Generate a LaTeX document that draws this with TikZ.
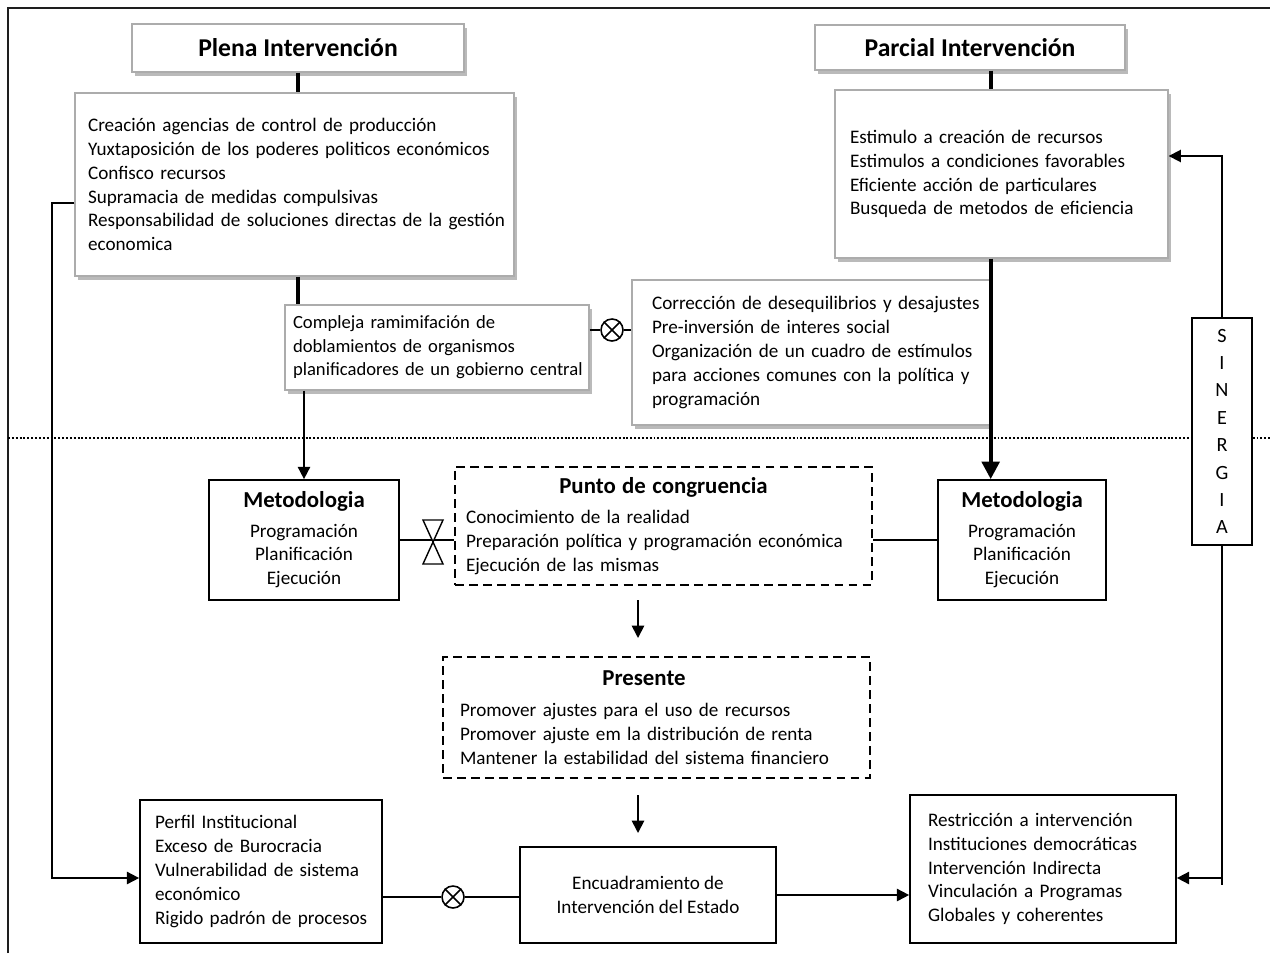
\documentclass[tikz,border=0pt]{standalone}
\usepackage{fontspec}
\setmainfont{Carlito}
\usetikzlibrary{arrows.meta,positioning,calc,shadows}
\definecolor{Marco}{HTML}{1E1E1E}
\definecolor{Sombra}{HTML}{9C9C9C}

\begin{document}
\begin{tikzpicture}[x=0.02cm, y=-0.02cm,
  every node/.style={font=\fontsize{10.9}{13.6}\selectfont},
  sombra/.style={draw=gray!65, line width=0.8pt, fill=white,
    drop shadow={shadow xshift=1.5pt, shadow yshift=-2.5pt, fill=Sombra, opacity=0.7}},
  caja/.style={draw=black, line width=1pt, fill=white},
  punteada/.style={draw=black, line width=1.5pt, dash pattern=on 5pt off 3pt, fill=white},
  lista/.style={align=left, inner xsep=0.1cm, text width=#1,
    execute at begin node={\hyphenpenalty=10000}},
  sangria/.style={execute at begin node={\leftskip=#1}},
  titulo/.style={font=\fontsize{14.6}{16}\selectfont\bfseries},
  conector/.style={line width=1pt},
  grueso/.style={line width=2.3pt},
  flecha/.style={conector, -{Triangle[length=7pt, width=7pt]}},
  cruz/.style={circle, draw, line width=0.9pt, minimum size=0.44cm, inner sep=0pt, fill=white}
]
  \useasboundingbox (0,0) rectangle (1270,953);
  \draw[Marco, line width=1.2pt] (8,953) -- (8,8) -- (1270,8);
  \draw[line width=1.4pt, dash pattern=on 1.1pt off 1.1pt] (8,438) -- (1270,438);

  % parte superior
  \node[sombra, titulo, minimum width=6.64cm, minimum height=0.96cm] (plena) at (298,48) {Plena Intervención};
  \node[sombra, lista=8.58cm, sangria=0.16cm, minimum height=3.66cm] (plenaList) at (294.5,184.5)
    {Creación agencias de control de producción\\
     Yuxtaposición de los poderes politicos económicos\\
     Confisco recursos\\
     Supramacia de medidas compulsivas\\
     Responsabilidad de soluciones directas de la gestión\\
     economica};
  \node[sombra, lista=5.96cm, sangria=0.1cm, inner xsep=0.06cm, minimum height=1.7cm,
    font=\fontsize{10.6}{13.4}\selectfont] (compleja) at (437,347.5)
    {Compleja ramimifación de\\ doblamientos de organismos\\ planificadores~de~un~gobierno~central};
  \node[sombra, lista=6.96cm, sangria=0.3cm, minimum height=2.9cm] (corr) at (811,352.5)
    {Corrección de desequilibrios y desajustes\\
     Pre-inversión de interes social\\
     Organización de un cuadro de estímulos\\
     para acciones comunes con la política y\\
     programación};
  \node[sombra, titulo, minimum width=6.2cm, minimum height=0.9cm] (parcial) at (970,47.5) {Parcial Intervención};
  \node[sombra, lista=6.46cm, sangria=0.2cm, minimum height=3.36cm] (parcialList) at (1001.5,174)
    {Estimulo a creación de recursos\\
     Estimulos a condiciones favorables\\
     Eficiente acción de particulares\\
     Busqueda de metodos de eficiencia};
  \node[caja, minimum width=1.2cm, minimum height=4.54cm, align=center,
    font=\fontsize{11.5}{15.6}\selectfont] (sinergia) at (1222,431.5) {S\\I\\N\\E\\R\\G\\I\\A};

  % parte inferior
  \node[caja, minimum width=3.8cm, minimum height=2.4cm, align=center] (metL) at (304,540)
    {{\fontsize{13}{15}\selectfont\bfseries Metodologia}\\[3pt] Programación\\ Planificación\\ Ejecución};
  \node[punteada, text width=7.9cm, inner xsep=0.22cm, minimum height=2.36cm, align=left] (punto) at (663.5,526)
    {\makebox[\linewidth]{\fontsize{13}{15}\selectfont\bfseries Punto de congruencia}\\[4pt]
     Conocimiento de la realidad\\
     Preparación política y programación económica\\
     Ejecución de las mismas};
  \node[caja, minimum width=3.36cm, minimum height=2.4cm, align=center] (metR) at (1022,540)
    {{\fontsize{13}{15}\selectfont\bfseries Metodologia}\\[3pt] Programación\\ Planificación\\ Ejecución};
  \node[punteada, text width=7.86cm, inner xsep=0.34cm, minimum height=2.42cm, align=left] (presente) at (656.5,717.5)
    {\makebox[\linewidth]{\hspace{-0.5cm}\fontsize{13}{15}\selectfont\bfseries Presente}\\[4pt]
     Promover ajustes para el uso de recursos\\
     Promover ajuste em la distribución de renta\\
     Mantener la estabilidad del sistema financiero};
  \node[caja, lista=4.64cm, sangria=0.2cm, minimum height=2.86cm] (perfil) at (261,871.5)
    {Perfil Institucional\\
     Exceso de Burocracia\\
     Vulnerabilidad de sistema\\
     económico\\
     Rigido padrón de procesos};
  \node[caja, minimum width=5.12cm, minimum height=1.92cm, align=center] (encuad) at (648,895)
    {Encuadramiento de\\ Intervención del Estado};
  \node[caja, lista=5.12cm, sangria=0.26cm, minimum height=2.96cm] (restr) at (1043,869)
    {Restricción a intervención\\
     Instituciones democráticas\\
     Intervención Indirecta\\
     Vinculación a Programas\\
     Globales y coherentes};

  \node[cruz] (cruzA) at (612,330) {};
  \node[cruz] (cruzB) at (453,897) {};
  \node[inner sep=0pt, minimum size=0.4cm] (valvula) at (433,542) {};

  \coordinate (izqA) at (52,203);
  \coordinate (izqB) at (52,878);
  \coordinate (sinA) at (1222,156);
  \coordinate (sinB) at (1222,878);
  \coordinate (bajaA) at (638,600);
  \coordinate (bajaB) at (638,795);

  % conectores
  \draw[grueso] (plena.south) -- (plena.south |- plenaList.north);
  \draw[grueso] (plena.south |- plenaList.south) -- (plena.south |- compleja.north);
  \draw[flecha] (metL.north |- compleja.south) -- (metL.north);
  \draw[conector] (compleja.east |- cruzA) -- (cruzA.west);
  \draw[conector] (cruzA.east) -- (corr.west |- cruzA);
  \draw[grueso] (corr.east |- parcial.south) -- (corr.east |- parcialList.north);
  \draw[grueso, -{Triangle[length=10pt, width=10pt]}] (corr.east |- parcialList.south) -- (corr.east |- metR.north);
  \draw[flecha] (plenaList.west |- izqA) -- (izqA) -- (izqB) -- (izqB -| perfil.west);
  \draw[flecha] (sinergia.north) -- (sinA) -- (sinA -| parcialList.east);
  \draw[flecha] (sinergia.south) -- (sinB) -- (sinB -| restr.east);
  \draw[conector] (sinB) -- ++(0,7);
  \draw[conector] (metL.east) -- (metL.east -| punto.west);
  \draw[line width=0.8pt, fill=white] ($(valvula)+(-10,-22)$) -- ++(20,0) -- ++(-20,44) -- ++(20,0) -- cycle;
  \draw[conector] (metR.west -| punto.east) -- (metR.west);
  \draw[flecha] (bajaA) -- ++(0,38);
  \draw[flecha] (bajaB) -- ++(0,38);
  \draw[conector] (perfil.east |- cruzB) -- (cruzB.west);
  \draw[conector] (cruzB.east) -- (encuad.west |- cruzB);
  \draw[flecha] (encuad.east) -- (restr.west |- encuad.east);
  \foreach \c in {cruzA, cruzB} {
    \draw[line width=0.9pt] (\c.north west) -- (\c.south east) (\c.north east) -- (\c.south west);
  }
\end{tikzpicture}
\end{document}
